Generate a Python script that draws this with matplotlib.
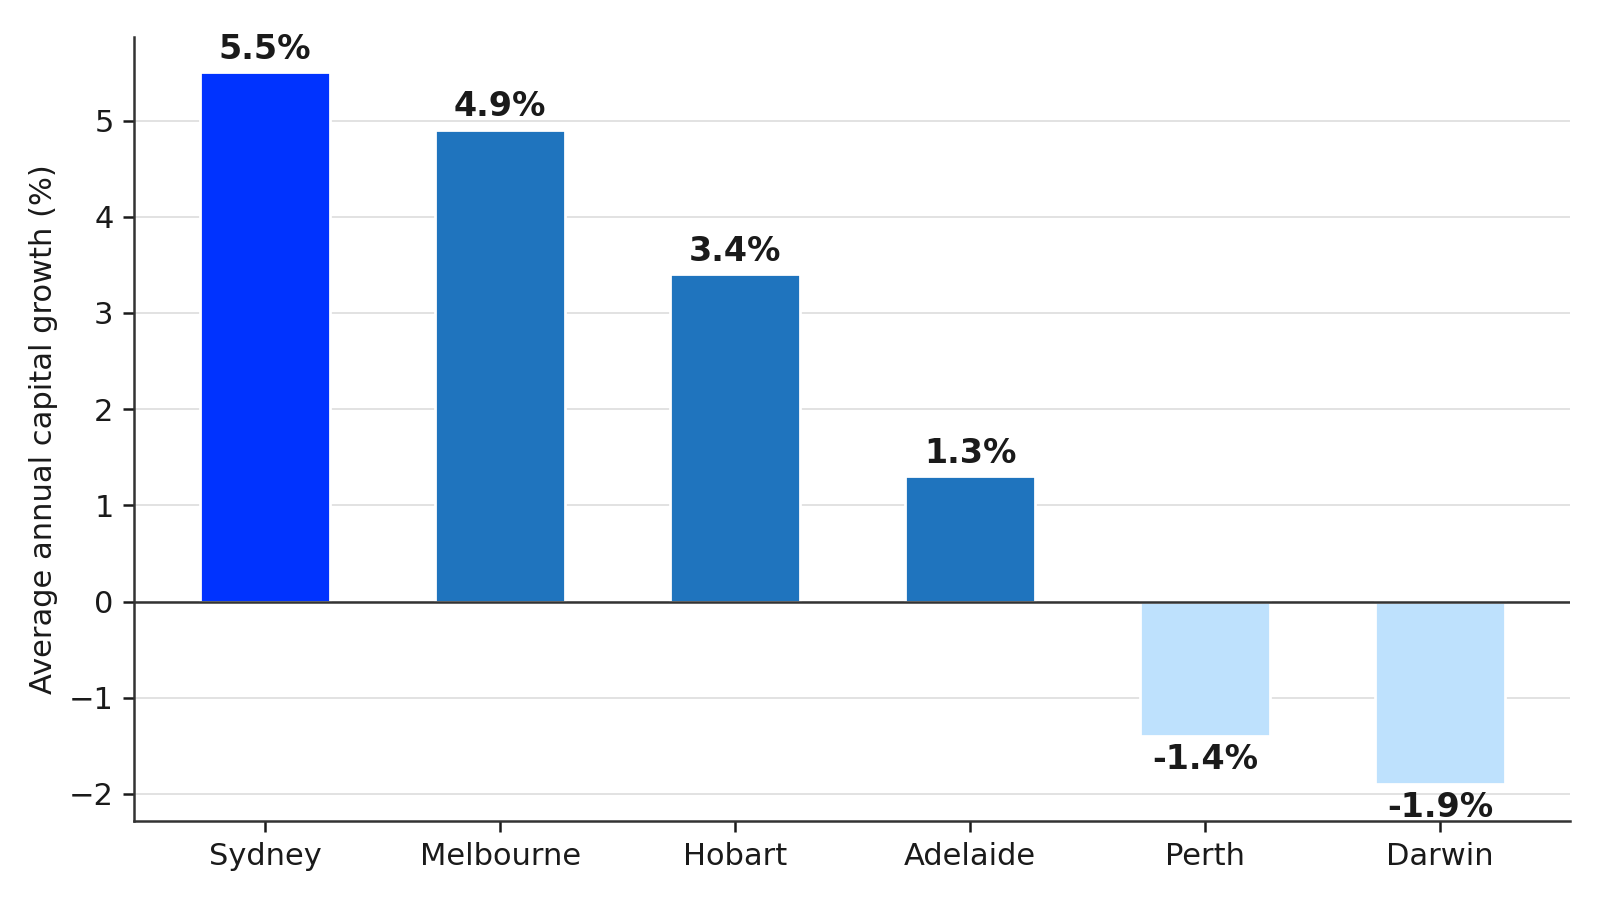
import matplotlib
matplotlib.use("Agg")
import matplotlib.pyplot as plt
import seaborn as sns

cities = ["Sydney", "Melbourne", "Hobart", "Adelaide", "Perth", "Darwin"]
growth = [5.5, 4.9, 3.4, 1.3, -1.4, -1.9]
bar_colors = ["#0033ff", "#1f74be", "#1f74be", "#1f74be", "#bee1fd", "#bee1fd"]

sns.set_theme(style="ticks")
plt.rcParams['font.family'] = ['DejaVu Sans']

fig, ax = plt.subplots(figsize=(8, 4.5), dpi=200)
fig.subplots_adjust(left=0.084, right=0.981, top=0.959, bottom=0.088)

x = list(range(len(cities)))
ax.yaxis.grid(True, color="#dddddd", linewidth=0.6)
ax.set_axisbelow(True)
bars = ax.bar(x, growth, width=0.55, color=bar_colors, zorder=2)
ax.axhline(0, color="#333333", linewidth=0.9, zorder=3)

for xi, v in zip(x, growth):
    if v >= 0:
        ax.annotate(f"{v:.1f}%", (xi, v), xytext=(0, 2.5), textcoords="offset points",
                    ha="center", va="bottom", fontsize=12, fontweight="bold", color="#1a1a1a")
    else:
        ax.annotate(f"{v:.1f}%", (xi, v), xytext=(0, -2.5), textcoords="offset points",
                    ha="center", va="top", fontsize=12, fontweight="bold", color="#1a1a1a")

ax.set_xticks(x)
ax.set_xticklabels(cities)
ax.set_xlim(-0.556, 5.551)
ax.set_ylim(-2.28, 5.87)
ax.set_yticks([-2, -1, 0, 1, 2, 3, 4, 5])
ax.set_ylabel("Average annual capital growth (%)", fontsize=11, color="#1a1a1a")
ax.tick_params(axis="both", labelsize=11, colors="#1a1a1a", width=0.9, length=4)
for s in ["left", "bottom"]:
    ax.spines[s].set_color("#333333")
    ax.spines[s].set_linewidth(0.9)
sns.despine(ax=ax)

fig.savefig("out.png", dpi=200)
